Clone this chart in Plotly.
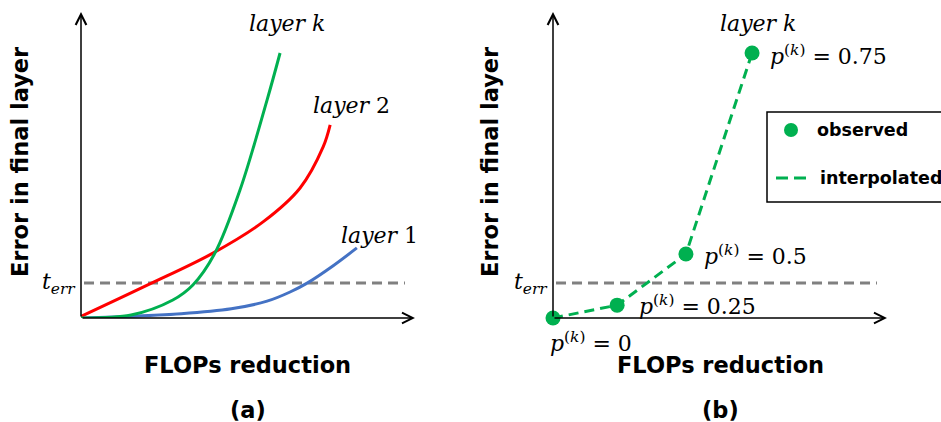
import plotly.graph_objects as go

# ---------------- data (normalised units: axis arrow end = 1) ----------------
# Panel (a): error curves per layer
layerk_x = [0, 0.15, 0.275, 0.335, 0.401, 0.476, 0.557, 0.596]
layerk_y = [0, 0.010, 0.059, 0.108, 0.212, 0.418, 0.712, 0.866]
layer2_x = [0, 0.2, 0.395, 0.545, 0.656, 0.725, 0.746]
layer2_y = [0.005, 0.108, 0.212, 0.314, 0.425, 0.559, 0.631]
layer1_x = [0, 0.3, 0.45, 0.557, 0.626, 0.677, 0.754, 0.826]
layer1_y = [0, 0.014, 0.030, 0.055, 0.085, 0.114, 0.170, 0.229]
t_err = 0.114
terr_span = [0.009, 0.97]

# Panel (b): observed points for layer k
obs_x = [0, 0.192, 0.398, 0.596]
obs_y = [0, 0.042, 0.209, 0.866]
obs_p = ["0", "0.25", "0.5", "0.75"]

GREEN = "#00B050"
RED = "#FF0000"
BLUE = "#4472C4"
GREY = "#808080"
SANS = "DejaVu Sans"
SERIF = "DejaVu Serif"
W, H = 941, 422

fig = go.Figure()

# ---- panel (a) traces ----
fig.add_trace(go.Scatter(x=terr_span, y=[t_err, t_err], mode="lines",
                         line=dict(color=GREY, width=3, dash="10px,6px"),
                         xaxis="x", yaxis="y", cliponaxis=False))
fig.add_trace(go.Scatter(x=layer1_x, y=layer1_y, mode="lines",
                         line=dict(color=BLUE, width=3, shape="spline", smoothing=1),
                         xaxis="x", yaxis="y", cliponaxis=False))
fig.add_trace(go.Scatter(x=layer2_x, y=layer2_y, mode="lines",
                         line=dict(color=RED, width=3, shape="spline", smoothing=1),
                         xaxis="x", yaxis="y", cliponaxis=False))
fig.add_trace(go.Scatter(x=layerk_x, y=layerk_y, mode="lines",
                         line=dict(color=GREEN, width=3, shape="spline", smoothing=1),
                         xaxis="x", yaxis="y", cliponaxis=False))

# ---- panel (b) traces ----
fig.add_trace(go.Scatter(x=terr_span, y=[t_err, t_err], mode="lines",
                         line=dict(color=GREY, width=3, dash="10px,6px"),
                         xaxis="x2", yaxis="y2", cliponaxis=False))
fig.add_trace(go.Scatter(x=obs_x, y=obs_y, mode="lines+markers",
                         line=dict(color=GREEN, width=3, dash="10px,6px"),
                         marker=dict(color=GREEN, size=15),
                         xaxis="x2", yaxis="y2", cliponaxis=False))

ax_common = dict(range=[0, 1], visible=False, fixedrange=True)
fig.update_layout(
    width=W, height=H,
    margin=dict(l=0, r=0, t=0, b=0),
    paper_bgcolor="white", plot_bgcolor="white",
    showlegend=False,
    xaxis=dict(domain=[81 / W, 415 / W], **ax_common),
    yaxis=dict(domain=[(H - 318) / H, (H - 12) / H], **ax_common),
    xaxis2=dict(domain=[553 / W, 887 / W], anchor="y2", **ax_common),
    yaxis2=dict(domain=[(H - 318) / H, (H - 12) / H], anchor="x2", **ax_common),
)

math_font = dict(family=SERIF, size=22, color="black")
title_font = dict(family=SANS, size=22.5, color="black")
leg_font = dict(family=SANS, size=17.5, color="black")

ann = []
# axis arrows
for xr, yr in (("x", "y"), ("x2", "y2")):
    ann.append(dict(x=0, y=1.0, ax=0, ay=0, xref=xr, yref=yr, axref=xr, ayref=yr,
                    text="", showarrow=True, arrowhead=5, arrowsize=1.4,
                    arrowwidth=1.5, arrowcolor="black", standoff=0, startstandoff=0))
    ann.append(dict(x=1.0, y=0, ax=0, ay=0, xref=xr, yref=yr, axref=xr, ayref=yr,
                    text="", showarrow=True, arrowhead=5, arrowsize=1.4,
                    arrowwidth=1.5, arrowcolor="black", standoff=0, startstandoff=0))

# t_err labels (outside the axes, so placed in paper units)
for px in (78, 550):
    ann.append(dict(x=px / W, y=(H - 283) / H, xref="paper", yref="paper",
                    xanchor="right", yanchor="middle",
                    text="<i>t</i><sub><i>err</i></sub>", showarrow=False, font=math_font))

# curve labels
for xr, yr, x, y, t in (
    ("x", "y", 0.617, 0.964, "<i>layer k</i>"),
    ("x", "y", 0.811, 0.696, "<i>layer</i> 2"),
    ("x", "y", 0.895, 0.271, "<i>layer</i> 1"),
    ("x2", "y2", 0.614, 0.964, "<i>layer k</i>"),
):
    ann.append(dict(x=x, y=y, xref=xr, yref=yr, xanchor="center", yanchor="middle",
                    text=t, showarrow=False, font=math_font))

# panel (b) point labels
p_pos = [(548, 342), (637, 305), (702, 255), (768, 55)]
for (px, py), p in zip(p_pos, obs_p):
    ann.append(dict(x=px / W, y=(H - py) / H, xref="paper", yref="paper",
                    xanchor="left", yanchor="middle",
                    text="<i>p</i><sup>(<i>k</i>)</sup> = " + p,
                    showarrow=False, font=math_font))

for cx, label in ((248, "(a)"), (720, "(b)")):
    ann.append(dict(x=cx / W, y=(H - 365) / H, xref="paper", yref="paper",
                    xanchor="center", yanchor="middle",
                    text="<b>FLOPs reduction</b>", showarrow=False, font=title_font))
    ann.append(dict(x=cx / W, y=(H - 410) / H, xref="paper", yref="paper",
                    xanchor="center", yanchor="middle",
                    text="<b>" + label + "</b>", showarrow=False, font=title_font))
for cx in (20, 490):
    ann.append(dict(x=cx / W, y=(H - 162) / H, xref="paper", yref="paper",
                    xanchor="center", yanchor="middle",
                    text="<b>Error in final layer</b>", textangle=-90,
                    showarrow=False, font=title_font))

# legend (drawn manually, extends past the right edge like the original)
ann.append(dict(x=815 / W, y=(H - 130) / H, xref="paper", yref="paper",
                xanchor="left", yanchor="middle",
                text="<b>observed</b>", showarrow=False, font=leg_font))
ann.append(dict(x=818 / W, y=(H - 178) / H, xref="paper", yref="paper",
                xanchor="left", yanchor="middle",
                text="<b>interpolated</b>", showarrow=False, font=leg_font))

shapes = [
    dict(type="rect", xref="paper", yref="paper", x0=767 / W, x1=1.02,
         y0=(H - 202) / H, y1=(H - 112) / H, line=dict(color="black", width=1.5)),
    dict(type="circle", xref="paper", yref="paper", x0=784 / W, x1=798 / W,
         y0=(H - 137) / H, y1=(H - 123) / H, fillcolor=GREEN, line=dict(width=0)),
    dict(type="line", xref="paper", yref="paper", x0=776 / W, x1=807 / W,
         y0=(H - 178) / H, y1=(H - 178) / H,
         line=dict(color=GREEN, width=3, dash="12px,6px")),
]

fig.update_layout(annotations=ann, shapes=shapes)
fig.write_html("out.html", config={"displayModeBar": False},
               post_script="document.body.style.margin='0';document.body.style.overflow='hidden';")
